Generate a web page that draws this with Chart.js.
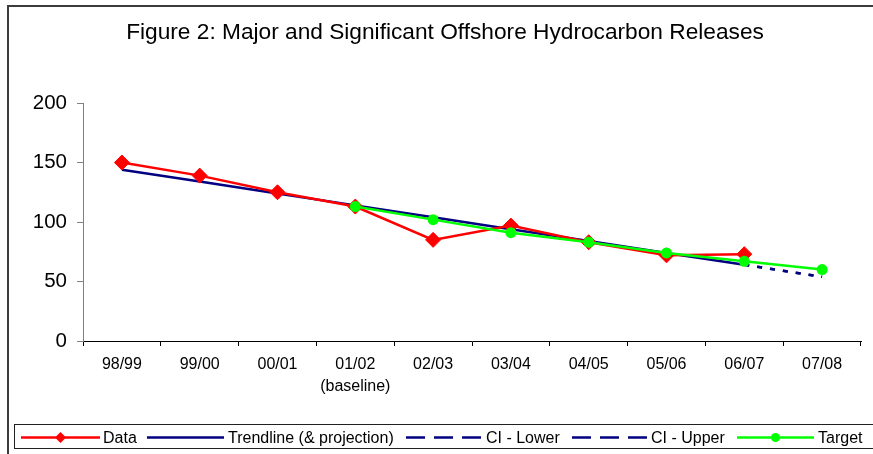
<!DOCTYPE html>
<html>
<head>
<meta charset="utf-8">
<script src="https://cdn.jsdelivr.net/npm/chart.js@4"></script>
<style>
  html, body { margin: 0; padding: 0; overflow: hidden; background: #fff; }
  #wrap { position: relative; width: 873px; height: 454px; overflow: hidden; }
  #c { position: absolute; left: 0; top: 0; }
  .frameTop { position: absolute; left: 7px; top: 5px; width: 870px; height: 2px; background: #3c3c3c; }
  .frameLeft { position: absolute; left: 7px; top: 5px; width: 2px; height: 460px; background: #3c3c3c; }
  #legend { position: absolute; left: 14px; top: 424px; width: 880px; height: 25px; border: 1px solid #202020; box-sizing: border-box; }
  .lg { position: absolute; top: 0; height: 25px; font-family: Arial, "Liberation Sans", sans-serif; font-size: 16px; line-height: 25px; color: #000; white-space: nowrap; }
  svg.sym { position: absolute; top: 0; }
</style>
</head>
<body>
<div id="wrap">
  <canvas id="c" width="873" height="454"></canvas>
  <div class="frameTop"></div>
  <div class="frameLeft"></div>
  <div id="legend"></div>
</div>
<script>
// ---- Data ----
const categories = ['98/99', '99/00', '00/01', ['01/02', '(baseline)'], '02/03', '03/04', '04/05', '05/06', '06/07', '07/08'];
const dataValues = [150, 139, 125, 113, 85, 97, 83, 72, 73, null];
const trendValues = [144, 134, 124, 114, 104, 94, 84, 74, 64, null];
const ciLowerValues = [null, null, null, null, null, null, null, null, 64, 54];
const ciUpperValues = [null, null, null, null, null, null, null, null, 64, 54];
const targetValues = [null, null, null, 113, 102, 91, 83, 74, 67, 60];
const yTicks = [0, 50, 100, 150, 200];
const titleText = 'Figure 2: Major and Significant Offshore Hydrocarbon Releases';
const legendNames = ['Data', 'Trendline (& projection)', 'CI - Lower', 'CI - Upper', 'Target'];

const RED = '#FF0000', NAVY = '#000080', GREEN = '#00FF00';
const FONT = 'Arial, "Liberation Sans", sans-serif';

new Chart(document.getElementById('c'), {
  type: 'line',
  data: {
    labels: categories,
    datasets: [
      { label: legendNames[0], data: dataValues, borderColor: RED, backgroundColor: RED, borderWidth: 2.5,
        pointStyle: 'rectRot', pointRadius: 7.5, pointBorderWidth: 1, pointBorderColor: RED, pointBackgroundColor: RED, order: 2 },
      { label: legendNames[1], data: trendValues, borderColor: NAVY, borderWidth: 2.5, pointRadius: 0, order: 4 },
      { label: legendNames[2], data: ciLowerValues, borderColor: NAVY, borderWidth: 2.5, borderDash: [5, 8], pointRadius: 0, order: 3 },
      { label: legendNames[3], data: ciUpperValues, borderColor: NAVY, borderWidth: 2.5, borderDash: [5, 8], pointRadius: 0, order: 3 },
      { label: legendNames[4], data: targetValues, borderColor: GREEN, backgroundColor: GREEN, borderWidth: 2.5,
        pointStyle: 'circle', pointRadius: 5.5, pointBorderWidth: 0, pointBackgroundColor: GREEN, order: 1 }
    ]
  },
  options: {
    responsive: false,
    devicePixelRatio: 1,
    animation: false,
    spanGaps: false,
    layout: { padding: { left: 29, right: 12, top: 5, bottom: 0 } },
    plugins: {
      legend: { display: false },
      tooltip: { enabled: false },
      title: {
        display: true, text: titleText, color: '#000',
        font: { family: FONT, size: 22.7, weight: 'normal', lineHeight: 1.2 },
        padding: { top: 14.4, bottom: 56.4 }
      }
    },
    scales: {
      x: {
        offset: true,
        grid: { offset: true, drawOnChartArea: false, drawTicks: true, tickLength: 5, color: '#000', tickColor: '#000' },
        border: { display: true, color: '#000', width: 1 },
        ticks: { color: '#000', font: { family: FONT, size: 16, lineHeight: 1.35 }, padding: 8, maxRotation: 0, autoSkip: false },
        afterFit: s => { s.height = 113; }
      },
      y: {
        min: 0, max: 200,
        afterBuildTicks: s => { s.ticks = yTicks.map(v => ({ value: v })); },
        grid: { drawOnChartArea: false, drawTicks: true, tickLength: 6, color: '#808080', tickColor: '#808080' },
        border: { display: true, color: '#808080', width: 1 },
        ticks: { color: '#000', font: { family: FONT, size: 20.5 }, padding: 10 },
        afterFit: s => { s.width = 54; }
      }
    }
  }
});

// ---- HTML legend ----
const lg = document.getElementById('legend');
const ox = 14; // legend box left
function sym(x1, x2, color, dash, marker) {
  const w = x2 - x1;
  let s = `<svg class="sym" style="left:${x1 - ox}px" width="${w}" height="25">`;
  s += `<line x1="0" y1="12.5" x2="${w}" y2="12.5" stroke="${color}" stroke-width="2.5" ${dash ? 'stroke-dasharray="19,9"' : ''}/>`;
  const c = w / 2;
  if (marker === 'diamond') s += `<polygon points="${c},7 ${c + 5.5},12.5 ${c},18 ${c - 5.5},12.5" fill="${color}"/>`;
  if (marker === 'circle') s += `<circle cx="${c}" cy="12.5" r="4.5" fill="${color}"/>`;
  s += '</svg>';
  return s;
}
function txt(x, t) { return `<span class="lg" style="left:${x - ox}px">${t.replace('&', '&amp;')}</span>`; }
lg.innerHTML =
  sym(20, 99, RED, false, 'diamond') + txt(102, legendNames[0]) +
  sym(146, 223, NAVY, false, null) + txt(227, legendNames[1]) +
  sym(405, 482, NAVY, true, null) + txt(485, legendNames[2]) +
  sym(571, 648, NAVY, true, null) + txt(650, legendNames[3]) +
  sym(736, 813, GREEN, false, 'circle') + txt(817, legendNames[4]);
</script>
</body>
</html>
